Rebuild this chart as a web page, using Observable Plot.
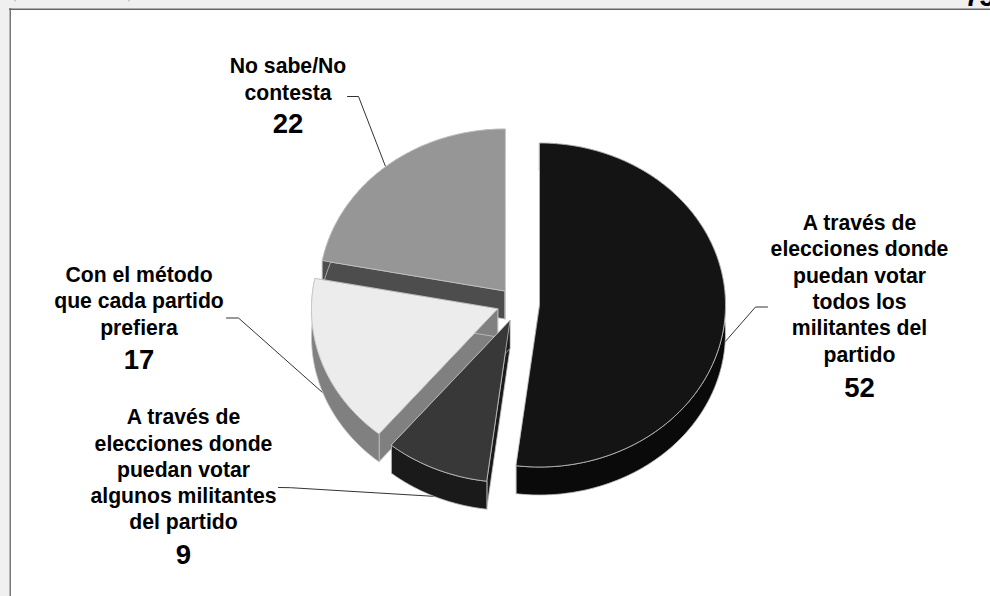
<!DOCTYPE html>
<html lang="es">
<head>
<meta charset="utf-8">
<title>Pie</title>
<script src="https://cdn.jsdelivr.net/npm/d3@7"></script>
<script src="https://cdn.jsdelivr.net/npm/@observablehq/plot@0.6"></script>
<style>
  html, body { margin: 0; padding: 0; background: #f0f0f0; overflow: hidden; }
  svg { display: block; }
</style>
</head>
<body>
<div id="chart"></div>
<script>
// Data, clockwise from 12 o'clock
const categories = [
  "A través de\nelecciones donde\npuedan votar\ntodos los\nmilitantes del\npartido",
  "A través de\nelecciones donde\npuedan votar\nalgunos militantes\ndel partido",
  "Con el método\nque cada partido\nprefiera",
  "No sabe/No\ncontesta"
];
const values = [52, 9, 17, 22];
const topColors = ["#141414", "#383838", "#ececec", "#969696"];
const sideColors = ["#0a0a0a", "#1a1a1a", "#808080", "#4d4d4d"];

// Layout of the tilted, exploded pie
const radiusX = 186, radiusY = 162, depth = 28;
const apexX = [539, 509.5, 497, 504.5];
const apexY = [304.5, 320, 308.5, 290.5];
const drawOrder = [3, 2, 1, 0];

// Annotation layout
const labelX = [859, 183, 138.5, 287.5];
const labelY = [287, 468, 299.5, 77.5];
const numberY = [388, 555, 360, 124];
const leaders = [
  [[767, 306.5], [755, 306.5], [724, 342]],
  [[278, 487], [290, 487.2], [436, 496]],
  [[226, 317.5], [238, 317.5], [322, 392]],
  [[347, 96], [358, 96], [385, 166]]
];

const total = d3.sum(values);
const turn = values.map((v, i) => d3.sum(values.slice(0, i)) / total * 2 * Math.PI);
const point = (i, a, drop = 0) => ({
  x: apexX[i] + radiusX * Math.sin(a),
  y: apexY[i] - radiusY * Math.cos(a) + drop
});

const parts = [];
function addPart(id, fill, pts) {
  pts.forEach(p => parts.push({part: id, fill, x: p.x, y: p.y}));
}
for (const i of drawOrder) {
  const a0 = turn[i], a1 = turn[i] + values[i] / total * 2 * Math.PI;
  const steps = Math.ceil((a1 - a0) / (Math.PI / 180));
  const arc = d3.range(steps + 1).map(k => a0 + (a1 - a0) * k / steps);
  const apex = {x: apexX[i], y: apexY[i]};
  const apexLow = {x: apexX[i], y: apexY[i] + depth};
  addPart(`wallA${i}`, sideColors[i], [apex, point(i, a0), point(i, a0, depth), apexLow]);
  addPart(`wallB${i}`, sideColors[i], [apex, point(i, a1), point(i, a1, depth), apexLow]);
  addPart(`rim${i}`, sideColors[i], [...arc.map(a => point(i, a)), ...arc.slice().reverse().map(a => point(i, a, depth))]);
  addPart(`top${i}`, topColors[i], [apex, ...arc.map(a => point(i, a))]);
}

const leaderRows = leaders.flatMap((pts, i) => pts.map(([x, y]) => ({i, x, y})));
const labelRows = categories.map((text, i) => ({text, x: labelX[i], y: labelY[i]}));
const numberRows = values.map((v, i) => ({text: String(v), x: labelX[i], y: numberY[i]}));
const font = {fontFamily: "'Liberation Sans', Arial, sans-serif", fontWeight: "bold", fill: "#000"};

const plot = Plot.plot({
  width: 990,
  height: 596,
  margin: 0,
  style: {background: "#f0f0f0", overflow: "hidden"},
  x: {domain: [0, 990], range: [0, 990], axis: null},
  y: {domain: [0, 596], range: [0, 596], axis: null},
  marks: [
    Plot.rect([{x1: 10, x2: 990, y1: 9, y2: 596}], {x1: "x1", x2: "x2", y1: "y1", y2: "y2", fill: "#fff"}),
    Plot.ruleY([8.75], {x1: 9, x2: 990, stroke: "#666", strokeWidth: 1.5}),
    Plot.ruleX([9.75], {y1: 8, y2: 596, stroke: "#777", strokeWidth: 1.5}),
    Plot.ruleX([14.5, 128.5], {y1: 0, y2: 1.5, stroke: "#aaa", strokeWidth: 1}),
    Plot.text(["75"], {x: 964, y: 5, text: d => d, textAnchor: "start", lineAnchor: "bottom", fontSize: 27, ...font}),
    Plot.line(leaderRows, {x: "x", y: "y", z: "i", stroke: "#333", strokeWidth: 1}),
    Plot.line(parts, {x: "x", y: "y", z: "part", fill: "fill", stroke: "#c4c4c4", strokeWidth: 0.8, curve: "linear-closed"}),
    Plot.text(labelRows, {x: "x", y: "y", text: "text", lineAnchor: "middle", lineHeight: 1.24, fontSize: 21.2, textAnchor: "middle", ...font}),
    Plot.text(numberRows, {x: "x", y: "y", text: "text", lineAnchor: "middle", fontSize: 27.5, textAnchor: "middle", ...font})
  ]
});
document.getElementById("chart").append(plot);
</script>
</body>
</html>
